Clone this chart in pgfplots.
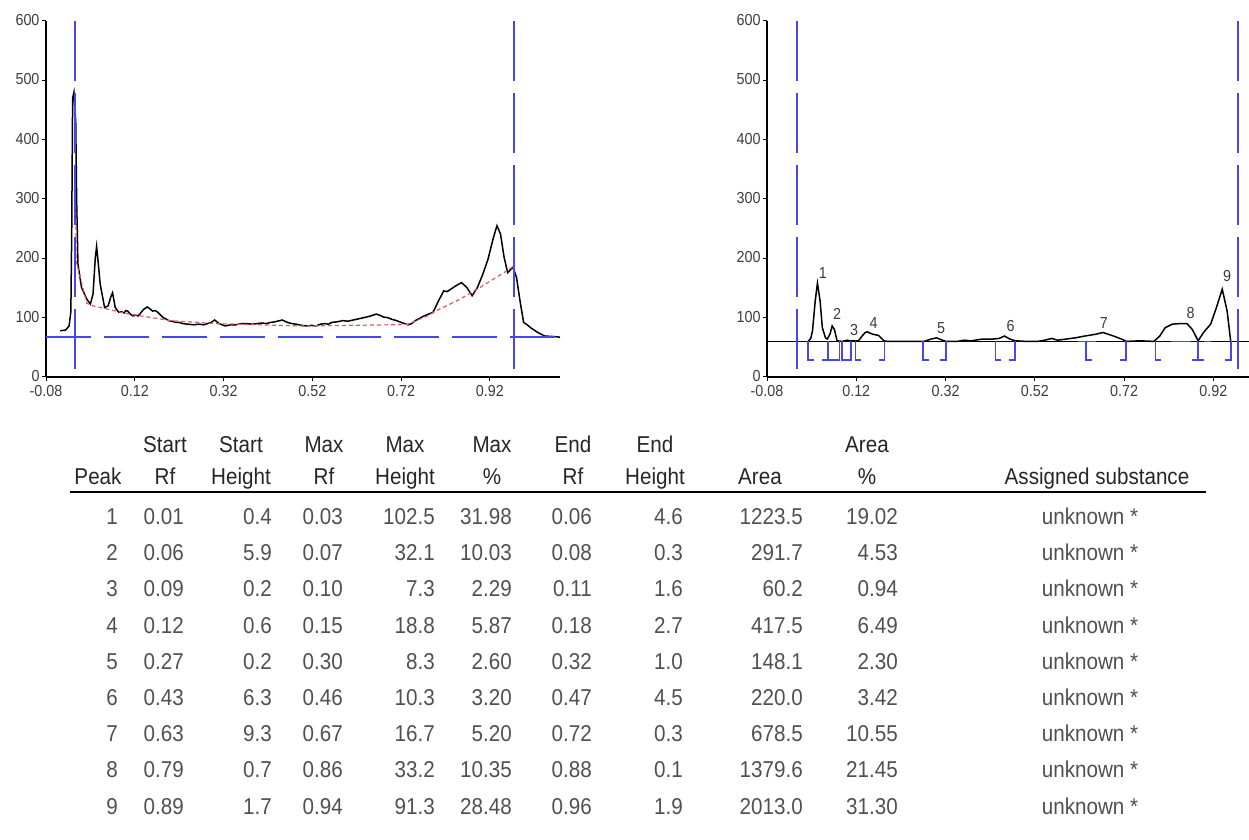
\documentclass[border=0pt]{standalone}
\usepackage{fontspec}
\setmainfont{Liberation Sans}
\newfontfamily\tabfont[FakeStretch=0.9]{Liberation Sans}
\newfontfamily\tickfont[FakeStretch=0.9]{Liberation Sans}
\usepackage{pgfplots}
\pgfplotsset{compat=1.18}
\definecolor{cblue}{RGB}{70,70,240}
\definecolor{cred}{RGB}{225,90,90}
\definecolor{ctxt}{RGB}{60,60,60}
\definecolor{cnum}{RGB}{80,80,80}
\pgfplotsset{myax/.style={scale only axis, height=356bp, ymin=0, ymax=600, xmin=-0.08,
  anchor=south west, axis lines=left, axis line style={-, line width=1.2bp, black},
  tick align=outside, major tick length=4bp, tick style={line width=1bp, black},
  xtick={-0.08,0.12,0.32,0.52,0.72,0.92}, xticklabels={-0.08,0.12,0.32,0.52,0.72,0.92},
  ytick={0,100,200,300,400,500,600}, yticklabels={0,100,200,300,400,500,600},
  tick label style={font=\tickfont\fontsize{16}{16}\selectfont, text=ctxt},
  xticklabel style={yshift=-1bp}, yticklabel style={xshift=1bp, yshift=1bp},
  clip=false}}
\begin{document}
\begin{tikzpicture}
\path[use as bounding box] (0,0) rectangle (1249bp,840bp);
% ---------------- left plot
\begin{axis}[myax, at={(46bp,463bp)}, width=514bp, xmax=1.078]
\addplot[black, line width=1.5bp] coordinates {
(-0.048,78) (-0.036,79) (-0.028,86) (-0.024,110) (-0.022,250) (-0.02,470) (-0.017,480) (-0.013,430) (-0.011,300) (-0.008,190) (0.0,151) (0.012,131) (0.02,123) (0.026,140) (0.031,200) (0.034,220) (0.038,190) (0.042,157) (0.052,117) (0.06,120) (0.066,135) (0.07,142) (0.076,117) (0.084,109) (0.09,110) (0.096,108) (0.1,112) (0.104,111) (0.11,106) (0.116,103) (0.122,104) (0.128,103) (0.14,114) (0.148,118) (0.154,115) (0.16,111) (0.166,112) (0.172,109) (0.184,100) (0.19,98) (0.196,95) (0.204,94) (0.212,92) (0.22,92) (0.228,90) (0.24,89) (0.252,88) (0.264,89) (0.276,88) (0.292,92) (0.3,96) (0.31,90) (0.324,86) (0.336,88) (0.348,88) (0.36,90) (0.372,90) (0.384,89) (0.396,90) (0.406,91) (0.416,90) (0.426,92) (0.436,93) (0.452,96) (0.464,92) (0.474,90) (0.484,89) (0.496,87) (0.508,86) (0.518,87) (0.528,86) (0.538,89) (0.548,90) (0.556,89) (0.564,92) (0.576,93) (0.588,95) (0.6,94) (0.612,96) (0.624,98) (0.636,100) (0.652,103) (0.664,106) (0.672,104) (0.68,101) (0.69,100) (0.7,97) (0.71,95) (0.72,92) (0.736,88) (0.744,90) (0.752,95) (0.762,99) (0.772,103) (0.782,106) (0.792,109) (0.804,128) (0.816,145) (0.824,144) (0.832,148) (0.844,154) (0.856,159) (0.868,151) (0.88,137) (0.892,151) (0.904,173) (0.916,199) (0.928,235) (0.936,255) (0.944,241) (0.952,202) (0.96,176) (0.972,185) (0.98,168) (0.988,128) (0.996,92) (1.004,88) (1.012,83) (1.028,75) (1.044,69) (1.068,68) (1.078,67)};
\addplot[cred, line width=1.2bp, dash pattern=on 4bp off 3bp] coordinates {
(-0.013,290) (-0.012,195) (0.012,124) (0.03,119) (0.05,116) (0.1,107) (0.15,101) (0.2,95) (0.3,90) (0.4,88) (0.5,86) (0.6,87) (0.7,88) (0.735,89) (0.78,103) (0.8,112) (0.85,130) (0.9,152) (0.95,175) (0.972,186)};
\addplot[cblue, line width=2bp, dash pattern=on 45bp off 13bp] coordinates {(-0.08,67) (1.078,67)};
\addplot[cblue, line width=2bp, dash pattern=on 60bp off 12bp] coordinates {(-0.014,600) (-0.014,0)};
\addplot[cblue, line width=2bp, dash pattern=on 60bp off 12bp] coordinates {(0.975,600) (0.975,0)};
\end{axis}
% ---------------- right plot
\begin{axis}[myax, at={(767bp,463bp)}, width=482bp, xmax=1.0, unbounded coords=jump]
\addplot[black, line width=1.5bp] coordinates {(-0.08,60) (1.0,60)};
\addplot[black, line width=1.5bp] coordinates {
(0.012,60) (0.018,65) (0.022,78) (0.028,128) (0.033,158) (0.039,128) (0.044,83) (0.051,66) (0.055,64) (0.061,72) (0.066,86) (0.071,80) (0.077,61) (0.088,60) (0.094,61) (0.1,62) (0.106,61) (0.125,61) (0.133,69) (0.14,75) (0.145,76) (0.157,72) (0.17,70) (0.182,61) (0.19,60) (0.272,60) (0.288,64) (0.3,66) (0.313,62) (0.321,60) (0.346,60) (0.362,62) (0.378,61) (0.403,64) (0.427,64) (0.44,65) (0.452,69) (0.464,64) (0.476,61) (0.501,60) (0.526,60) (0.542,62) (0.558,65) (0.571,62) (0.591,64) (0.611,66) (0.632,69) (0.656,72) (0.673,75) (0.693,70) (0.714,64) (0.726,60) (0.755,61) (0.787,60) (0.8,69) (0.812,83) (0.828,89) (0.845,90) (0.861,90) (0.873,80) (0.886,61) (0.898,75) (0.914,89) (0.927,117) (0.94,148) (0.951,111) (0.959,60)};
\addplot[cblue, line width=1.5bp] coordinates {(0.617,60) (0.657,60) (nan,nan) (0.825,60) (0.87,60) (nan,nan) (0.9,60) (0.915,60)};
\addplot[cblue, line width=1.5bp] coordinates {
(0.025,29) (0.012,29) (0.012,60) (nan,nan)
(0.070,29) (0.057,29) (0.057,60) (nan,nan)
(0.101,29) (0.088,29) (0.088,60) (nan,nan)
(0.131,29) (0.118,29) (0.118,60) (nan,nan)
(0.283,29) (0.27,29) (0.27,60) (nan,nan)
(0.445,29) (0.432,29) (0.432,60) (nan,nan)
(0.648,29) (0.635,29) (0.635,60) (nan,nan)
(0.803,29) (0.79,29) (0.79,60) (nan,nan)
(0.899,29) (0.886,29) (0.886,60) (nan,nan)
(0.057,60) (0.057,29) (0.044,29) (nan,nan)
(0.082,60) (0.082,29) (0.069,29) (nan,nan)
(0.108,60) (0.108,29) (0.095,29) (nan,nan)
(0.183,60) (0.183,29) (0.170,29) (nan,nan)
(0.321,60) (0.321,29) (0.308,29) (nan,nan)
(0.476,60) (0.476,29) (0.463,29) (nan,nan)
(0.724,60) (0.724,29) (0.711,29) (nan,nan)
(0.886,60) (0.886,29) (0.873,29) (nan,nan)
(0.960,60) (0.960,29) (0.947,29)};
\addplot[cblue, line width=2bp, dash pattern=on 60bp off 12bp] coordinates {(-0.013,600) (-0.013,0)};
\addplot[cblue, line width=2bp, dash pattern=on 60bp off 12bp] coordinates {(0.975,600) (0.975,0)};
\begin{scope}[every node/.style={font=\tickfont\fontsize{16}{16}\selectfont, text=ctxt, inner sep=0pt}]
\node at (axis cs:0.045,176) {1};
\node at (axis cs:0.077,106) {2};
\node at (axis cs:0.115,80) {3};
\node at (axis cs:0.159,91) {4};
\node at (axis cs:0.31,82) {5};
\node at (axis cs:0.466,86) {6};
\node at (axis cs:0.675,91) {7};
\node at (axis cs:0.869,107) {8};
\node at (axis cs:0.951,170) {9};
\end{scope}
\end{axis}
% ---------------- table
\begin{scope}[every node/.style={font=\tabfont\fontsize{23}{23}\selectfont, inner sep=0pt}]
\foreach \x/\t in {165/Start,241/Start,324/Max,405/Max,492/Max,573/End,655/End,867/Area}
  \node[anchor=base, text=black!85] at (\x bp,387.5bp) {\t};
\foreach \x/\t in {98/Peak,165/Rf,241/Height,324/Rf,405/Height,492/\%,573/Rf,655/Height,760/Area,867/\%,1097/Assigned substance}
  \node[anchor=base, text=black!85] at (\x bp,355.5bp) {\t};
\draw[line width=1.5bp, black] (70bp,348bp) -- (1206bp,348bp);
\foreach \a/\b/\c/\d/\e/\f/\g/\h/\i/\j [count=\r] in {
1/0.01/0.4/0.03/102.5/31.98/0.06/4.6/1223.5/19.02,
2/0.06/5.9/0.07/32.1/10.03/0.08/0.3/291.7/4.53,
3/0.09/0.2/0.10/7.3/2.29/0.11/1.6/60.2/0.94,
4/0.12/0.6/0.15/18.8/5.87/0.18/2.7/417.5/6.49,
5/0.27/0.2/0.30/8.3/2.60/0.32/1.0/148.1/2.30,
6/0.43/6.3/0.46/10.3/3.20/0.47/4.5/220.0/3.42,
7/0.63/9.3/0.67/16.7/5.20/0.72/0.3/678.5/10.55,
8/0.79/0.7/0.86/33.2/10.35/0.88/0.1/1379.6/21.45,
9/0.89/1.7/0.94/91.3/28.48/0.96/1.9/2013.0/31.30}{
  \pgfmathsetmacro{\yy}{315.5-36.2*(\r-1)}
  \node[anchor=base, text=cnum] at (112bp,\yy bp) {\a};
  \node[anchor=base east, text=cnum] at (184bp,\yy bp) {\b};
  \node[anchor=base east, text=cnum] at (272bp,\yy bp) {\c};
  \node[anchor=base east, text=cnum] at (343bp,\yy bp) {\d};
  \node[anchor=base east, text=cnum] at (435bp,\yy bp) {\e};
  \node[anchor=base east, text=cnum] at (512bp,\yy bp) {\f};
  \node[anchor=base east, text=cnum] at (592bp,\yy bp) {\g};
  \node[anchor=base east, text=cnum] at (683bp,\yy bp) {\h};
  \node[anchor=base east, text=cnum] at (803bp,\yy bp) {\i};
  \node[anchor=base east, text=cnum] at (898bp,\yy bp) {\j};
  \node[anchor=base, text=cnum] at (1090bp,\yy bp) {unknown *};
}
\end{scope}
\end{tikzpicture}
\end{document}
